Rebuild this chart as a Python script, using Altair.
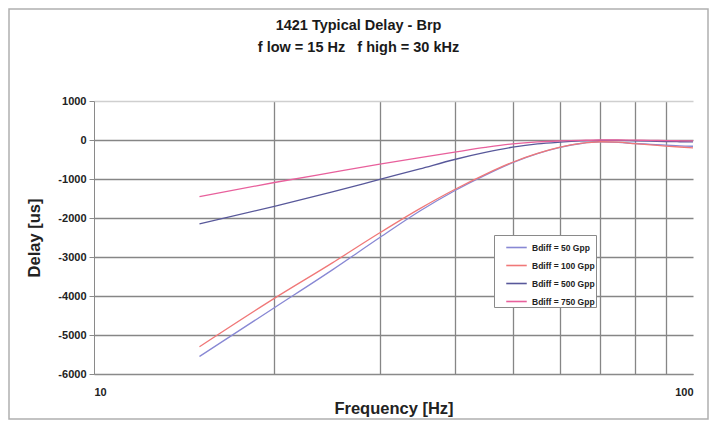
import altair as alt
import pandas as pd

freq = [15, 20, 25, 30, 35, 40, 45, 50, 55, 60, 65, 70, 75, 80, 85, 90, 95, 100]
bdiff_50 = [-5550, -4300, -3330, -2500, -1820, -1300, -900, -580, -350, -190, -90, -50, -60, -90, -110, -130, -150, -160]
bdiff_100 = [-5300, -4060, -3150, -2380, -1760, -1270, -880, -570, -345, -185, -85, -45, -55, -95, -125, -155, -180, -200]
bdiff_500 = [-2150, -1700, -1330, -1010, -740, -500, -320, -185, -100, -55, -25, -10, -10, -20, -30, -40, -45, -50]
bdiff_750 = [-1450, -1090, -830, -620, -450, -310, -190, -100, -50, -25, -10, 0, 0, -5, -10, -15, -20, -25]

series_names = ["Bdiff = 50 Gpp", "Bdiff = 100 Gpp", "Bdiff = 500 Gpp", "Bdiff = 750 Gpp"]
series_colors = ["#8888d4", "#f07878", "#58589a", "#e8609c"]
x_ticks = [10, 20, 30, 40, 50, 60, 70, 80, 90, 100]
y_ticks = [-6000, -5000, -4000, -3000, -2000, -1000, 0, 1000]

rows = []
for name, vals in zip(series_names, [bdiff_50, bdiff_100, bdiff_500, bdiff_750]):
    for f, v in zip(freq, vals):
        rows.append({"freq": f, "delay": v, "series": name})
df = pd.DataFrame(rows)

FONT = "Liberation Sans"

lines = alt.Chart(df).mark_line(strokeWidth=1.3, interpolate="monotone").encode(
    x=alt.X("freq:Q",
            scale=alt.Scale(type="log", domain=[10, 100]),
            axis=alt.Axis(values=x_ticks, format="d",
                          labelExpr="datum.value == 10 || datum.value == 100 ? datum.label : ''",
                          title="Frequency [Hz]", grid=True,
                          gridOpacity={"condition": {"test": "datum.value == 100 || datum.value == 10", "value": 0}, "value": 1},
                          tickSize=0, labelPadding=12, titlePadding=3)),
    y=alt.Y("delay:Q",
            scale=alt.Scale(domain=[-6000, 1000], nice=False, zero=False),
            axis=alt.Axis(values=y_ticks, title="Delay [us]", grid=True,
                          labelExpr="datum.value < 0 ? '-' + format(-datum.value, 'd') : format(datum.value, 'd')",
                          gridColor={"condition": {"test": "datum.value == 1000", "value": "#cfcfcf"}, "value": "#868686"},
                          tickSize=5, labelPadding=3, titlePadding=15)),
    color=alt.Color("series:N",
                    scale=alt.Scale(domain=series_names, range=series_colors),
                    sort=series_names,
                    legend=alt.Legend(title=None, orient="none", legendX=400, legendY=134,
                                      symbolType="stroke", symbolSize=420, symbolStrokeWidth=1.6,
                                      symbolOffset=10, labelOffset=4,
                                      labelFontSize=8.5, labelFont=FONT, labelFontWeight="bold",
                                      labelColor="#222", rowPadding=2,
                                      strokeColor="#8a8a8a", fillColor="white", padding=1)),
)

frame = alt.Chart(pd.DataFrame({"k": [0]})).mark_rect(fill=None, stroke="#b0b0b0", strokeWidth=1.5).encode(
    x=alt.value(-85), x2=alt.value(614), y=alt.value(-92), y2=alt.value(318)
)

chart = alt.layer(frame, lines).properties(
    width=599, height=273,
    padding={"left": 86, "top": 93, "right": 16, "bottom": 46},
    autosize=alt.AutoSizeParams(type="none"),
    title=alt.TitleParams(
        text=["1421 Typical Delay - Brp", "f low = 15 Hz\u00a0\u00a0\u00a0f high = 30 kHz"],
        fontSize=14.5, font=FONT, fontWeight="bold", color="#1a1a1a",
        anchor="middle", dx=-35, dy=47, offset=0, lineHeight=22,
    ),
).configure_view(stroke=None).configure_axis(
    labelFont=FONT, labelFontSize=11, labelFontWeight="bold", labelColor="#222",
    titleFont=FONT, titleFontSize=16.5, titleFontWeight="bold", titleColor="#222",
    domainColor="#8a8a8a", tickColor="#8a8a8a", gridWidth=1.3, gridColor="#868686",
)

chart.save("out.html", embed_options={"renderer": "svg", "actions": False})
